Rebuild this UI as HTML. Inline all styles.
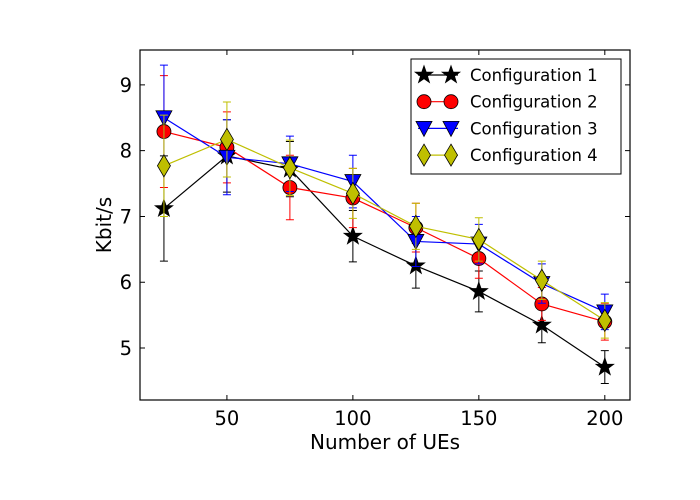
<!DOCTYPE html>
<html><head><meta charset="utf-8"><style>
body{margin:0;background:#fff}
svg{display:block;font-family:"DejaVu Sans","Liberation Sans",sans-serif}
</style></head><body>
<svg id="chart" width="700" height="500" xmlns="http://www.w3.org/2000/svg">
<rect x="0" y="0" width="700" height="500" fill="#fff"/>
<g id="plot"></g>
</svg>
<script>
const categories=[25,50,75,100,125,150,175,200];
const seriesNames=["Configuration 1","Configuration 2","Configuration 3","Configuration 4"];
const values1=[7.12,7.92,7.72,6.70,6.25,5.86,5.35,4.71];
const values2=[8.29,8.05,7.44,7.28,6.83,6.36,5.67,5.40];
const values3=[8.50,7.90,7.80,7.53,6.62,6.58,5.98,5.55];
const values4=[7.77,8.17,7.74,7.35,6.85,6.65,6.03,5.42];
const errors1=[0.80,0.55,0.42,0.39,0.34,0.31,0.27,0.25];
const errors2=[0.85,0.54,0.49,0.45,0.37,0.30,0.25,0.28];
const errors3=[0.80,0.57,0.42,0.40,0.38,0.30,0.30,0.27];
const errors4=[0.77,0.57,0.42,0.38,0.35,0.33,0.29,0.27];
const xTicks=[50,100,150,200];
const yTicks=[5,6,7,8,9];

const NS="http://www.w3.org/2000/svg";
const L=140,R=630,T=50,B=400;
const xMin=15.5,xMax=210,yMin=4.21,yMax=9.53;
const sx=v=>L+(v-xMin)/(xMax-xMin)*(R-L);
const sy=v=>B-(v-yMin)/(yMax-yMin)*(B-T);
const svg=document.getElementById('chart');
const plot=document.getElementById('plot');
function mk(tag,attrs,parent){const e=document.createElementNS(NS,tag);for(const k in attrs)e.setAttribute(k,attrs[k]);(parent||svg).appendChild(e);return e;}

function marker(type,x,y,fill,parent){
  let e;
  if(type==='star'){
    let pts=[];for(let i=0;i<10;i++){const r=i%2?3.6:9;const a=-Math.PI/2+i*Math.PI/5;pts.push((x+r*Math.cos(a)).toFixed(1)+','+(y+r*Math.sin(a)).toFixed(1));}
    e=mk('polygon',{points:pts.join(' '),fill:fill,stroke:'#000','stroke-width':1},parent);
  }else if(type==='circle'){
    e=mk('circle',{cx:x,cy:y,r:7,fill:fill,stroke:'#000','stroke-width':0.8},parent);
  }else if(type==='tri'){
    e=mk('polygon',{points:`${x-8},${y-7} ${x+8},${y-7} ${x},${y+8}`,fill:fill,stroke:'#000','stroke-width':0.8},parent);
  }else{
    e=mk('polygon',{points:`${x},${y-11} ${x+6.5},${y} ${x},${y+11} ${x-6.5},${y}`,fill:fill,stroke:'#000','stroke-width':0.8},parent);
  }
  return e;
}

const series=[
 {vals:values1,errs:errors1,color:'#000000',fill:'#000000',m:'star'},
 {vals:values2,errs:errors2,color:'#ff0000',fill:'#ff0000',m:'circle'},
 {vals:values3,errs:errors3,color:'#0000ff',fill:'#0000ff',m:'tri'},
 {vals:values4,errs:errors4,color:'#bfbf00',fill:'#bfbf00',m:'diamond'}
];
series.forEach((s,si)=>{
  const g=mk('g',{},plot);
  
  
  s.vals.forEach((v,i)=>{
    const x=sx(categories[i]),y1=sy(v+s.errs[i]),y2=sy(v-s.errs[i]);
    const eb=mk('path',{d:`M${x},${y1}V${y2}M${x-4},${y1}H${x+4}M${x-4},${y2}H${x+4}`,stroke:s.color,'stroke-width':1,fill:'none'},g);
    
    
  });
  const ln=mk('polyline',{points:s.vals.map((v,i)=>sx(categories[i])+','+sy(v)).join(' '),fill:'none',stroke:s.color,'stroke-width':1.2},g);
  
  
  s.vals.forEach((v,i)=>{
    const p=marker(s.m,sx(categories[i]),sy(v),s.fill,g);
    
    
  });
});

const frame=mk('rect',{x:L,y:T,width:R-L,height:B-T,fill:'none',stroke:'#000','stroke-width':1.2});


xTicks.forEach(t=>{
  const x=sx(t);
  const tk=mk('path',{d:`M${x},${B}v-5M${x},${T}v5`,stroke:'#000','stroke-width':1});
  
  
  const tx=mk('text',{x:x,y:B+25,'text-anchor':'middle','font-size':19.5});
  tx.textContent=t;
  
  
});
yTicks.forEach(t=>{
  const y=sy(t);
  const tk=mk('path',{d:`M${L},${y}h5M${R},${y}h-5`,stroke:'#000','stroke-width':1});
  
  
  const tx=mk('text',{x:L-8,y:y+7,'text-anchor':'end','font-size':19.5});
  tx.textContent=t;
  
  
});
const xt=mk('text',{x:385,y:449,'text-anchor':'middle','font-size':20});
xt.textContent='Number of UEs';


const yt=mk('text',{x:0,y:0,'text-anchor':'middle','font-size':20,transform:'translate(111,225) rotate(-90)'});
yt.textContent='Kbit/s';



const lg=mk('g',{});


mk('rect',{x:411,y:59,width:210,height:115,fill:'#fff',stroke:'#000','stroke-width':1},lg);
series.forEach((s,i)=>{
  const y=75+i*26.7;
  const e=mk('g',{},lg);
  
  
  mk('line',{x1:418,x2:458,y1:y,y2:y,stroke:s.color,'stroke-width':1.2},e);
  marker(s.m,424,y,s.fill,e);
  marker(s.m,451,y,s.fill,e);
  const t=mk('text',{x:470,y:y+6,'font-size':16.5},e);
  t.textContent=seriesNames[i];
});
</script>
</body></html>
